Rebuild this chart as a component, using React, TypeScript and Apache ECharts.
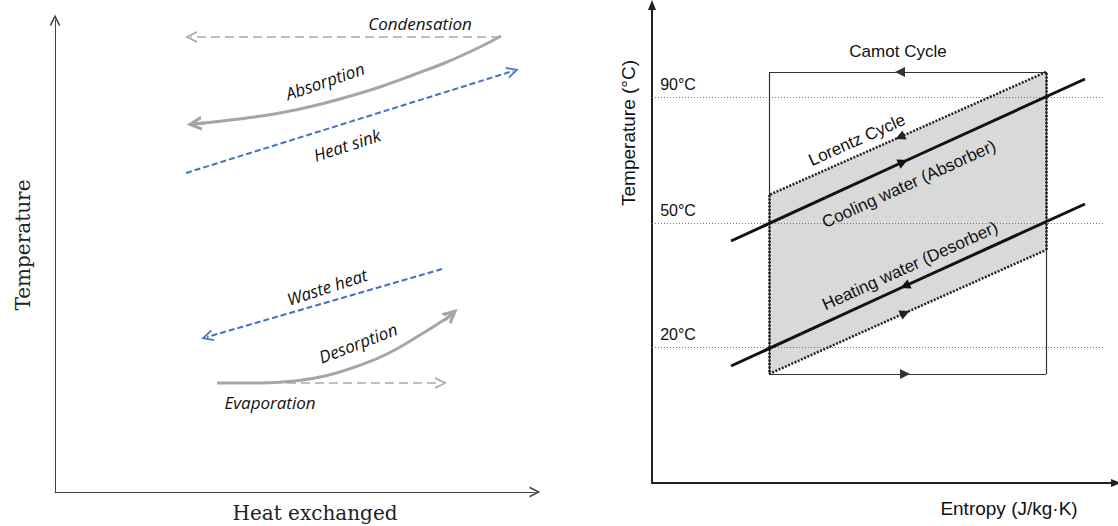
import React, { useEffect, useRef } from 'react';
import * as echarts from 'echarts';

// ---------- Left panel (schematic units: heat exchanged vs temperature) ----------
const absorptionX = [446, 425, 392, 358, 325, 292, 258, 225, 192, 158, 138];
const absorptionY = [456, 445, 430, 417, 405, 395, 386, 379, 374, 370, 368];
const desorptionX = [162, 205, 240, 270, 300, 332, 365, 392, 397];
const desorptionY = [109, 109, 111, 116, 125, 138, 157, 174, 178];
const condensationSeg = [[445, 455], [136, 455]];
const evaporationSeg = [[232, 109], [386, 109]];
const heatSinkSeg = [[131, 319], [458, 421]];
const wasteHeatSeg = [[387, 223], [152, 155]];
const absorptionTip = [[150, 369], [139, 368]];
const desorptionTip = [[390, 172], [397, 178]];
const leftLabelText = ['Condensation', 'Absorption', 'Heat sink', 'Waste heat', 'Desorption', 'Evaporation'];
const leftLabelX = [365, 270, 292, 272, 303, 215];
const leftLabelY = [469, 411, 347, 205, 149, 90];
const leftLabelRot = [0, 19, 18, 18, 21, 0];

// ---------- Right panel (schematic units: entropy vs temperature) ----------
const carnotArrowSegs = [[[394, 411], [248, 411]], [[117, 109], [253, 109]]];
const carnotPlainSegs = [[[248, 411], [117, 411]], [[117, 411], [117, 109]], [[253, 109], [394, 109]], [[394, 109], [394, 411]]];
const lorentzX = [117, 394, 394, 117];
const lorentzY = [288, 411, 233, 109];
const lorentzArrowSegs = [[[394, 411], [248, 346]], [[117, 109], [253, 170]]];
const lorentzPlainSegs = [[[248, 346], [117, 288]], [[253, 170], [394, 233]], [[117, 288], [117, 109]], [[394, 233], [394, 411]]];
const waterArrowSegs = [[[79, 242], [251, 321]], [[433, 279], [253, 197]]];
const waterPlainSegs = [[[251, 321], [433, 404]], [[253, 197], [79, 117]]];
const tempLevels = [386, 260, 136];
const tempLabels = ['90°C', '50°C', '20°C'];
const refLineEnd = 453;
const rightLabelText = ['Camot Cycle', 'Lorentz Cycle', 'Cooling water (Absorber)', 'Heating water (Desorber)'];
const rightLabelX = [246, 205, 257, 258];
const rightLabelY = [432, 343, 299, 217];
const rightLabelRot = [0, 24, 24.5, 24.5];

const CHEV = 'path://M0,10L5,0L10,10L8.4,10L5,3.2L1.6,10Z';
const CHEV_BOLD = 'path://M0,10L5,0L10,10L7.6,10L5,4.4L2.4,10Z';

function linesSeries(grid: number, segs: number[][][], color: string, width: number, type: any, endSymbol: string, size: number, z = 3) {
  return {
    type: 'lines',
    coordinateSystem: 'cartesian2d',
    xAxisIndex: grid,
    yAxisIndex: grid,
    symbol: ['none', endSymbol],
    symbolSize: size,
    lineStyle: { color, width, type, opacity: 1, curveness: 0 },
    data: segs.map((s) => ({ coords: s })),
    silent: true,
    z,
  };
}

function labelSeries(grid: number, texts: string[], xs: number[], ys: number[], rots: number[], font: any) {
  return {
    type: 'scatter',
    xAxisIndex: grid,
    yAxisIndex: grid,
    symbolSize: 0,
    silent: true,
    z: 10,
    itemStyle: { opacity: 1, color: '#111' },
    label: { show: true, position: 'inside', formatter: '{b}', color: '#111', opacity: 1, textBorderWidth: 0, ...font },
    data: texts.map((t, i) => ({ name: t, value: [xs[i], ys[i]], label: { rotate: rots[i] } })),
  };
}

export default function App() {
  const ref = useRef<HTMLDivElement>(null);
  useEffect(() => {
    const chart = echarts.init(ref.current!, null, { renderer: 'svg' });
    const hidden = { axisTick: { show: false }, axisLabel: { show: false }, splitLine: { show: false } };
    const option: any = {
      animation: false,
      grid: [
        { left: 55, top: 20, width: 480, height: 472 },
        { left: 652, top: 5, width: 464, height: 478 },
      ],
      xAxis: [
        { type: 'value', gridIndex: 0, min: 0, max: 480, ...hidden,
          axisLine: { show: true, symbol: ['none', CHEV], symbolSize: [11, 12], lineStyle: { color: '#444', width: 1 } } },
        { type: 'value', gridIndex: 1, min: 0, max: 464, ...hidden,
          axisLine: { show: true, symbol: ['none', 'triangle'], symbolSize: [8, 10], lineStyle: { color: '#222', width: 2 } } },
      ],
      yAxis: [
        { type: 'value', gridIndex: 0, min: 0, max: 472, ...hidden,
          axisLine: { show: true, symbol: ['none', CHEV], symbolSize: [11, 12], lineStyle: { color: '#444', width: 1 } } },
        { type: 'value', gridIndex: 1, min: 0, max: 478, ...hidden,
          axisLine: { show: true, symbol: ['none', 'triangle'], symbolSize: [8, 10], lineStyle: { color: '#222', width: 2 } } },
      ],
      graphic: [
        { type: 'text', x: 23, y: 245, rotation: Math.PI / 2,
          style: { text: 'Temperature', font: '20px "DejaVu Serif"', fill: '#222', align: 'center', verticalAlign: 'middle' } },
        { type: 'text', x: 315, y: 513,
          style: { text: 'Heat exchanged', font: '20px "DejaVu Serif"', fill: '#222', align: 'center', verticalAlign: 'middle' } },
        { type: 'text', x: 628, y: 133, rotation: Math.PI / 2,
          style: { text: 'Temperature (°C)', font: '19px "Liberation Sans"', fill: '#111', align: 'center', verticalAlign: 'middle' } },
        { type: 'text', x: 1009, y: 508,
          style: { text: 'Entropy (J/kg·K)', font: '19px "Liberation Sans"', fill: '#111', align: 'center', verticalAlign: 'middle' } },
      ],
      series: [
        // Left panel
        { type: 'line', xAxisIndex: 0, yAxisIndex: 0, smooth: 0.4, showSymbol: false, silent: true,
          lineStyle: { color: '#a6a6a6', width: 3 }, data: absorptionX.map((x, i) => [x, absorptionY[i]]) },
        { type: 'line', xAxisIndex: 0, yAxisIndex: 0, smooth: 0.5, showSymbol: false, silent: true,
          lineStyle: { color: '#a6a6a6', width: 3 }, data: desorptionX.map((x, i) => [x, desorptionY[i]]) },
        linesSeries(0, [absorptionTip, desorptionTip], '#a6a6a6', 3, 'solid', CHEV_BOLD, 15),
        linesSeries(0, [condensationSeg, evaporationSeg], '#aaaaaa', 1.5, [9, 5], CHEV, 12),
        linesSeries(0, [heatSinkSeg, wasteHeatSeg], '#4472c4', 2, [6, 3], CHEV, 12),
        labelSeries(0, leftLabelText, leftLabelX, leftLabelY, leftLabelRot,
          { fontSize: 17, fontStyle: 'italic', fontFamily: '"Open Sans"' }),
        // Right panel
        { type: 'custom', xAxisIndex: 1, yAxisIndex: 1, silent: true, z: 1,
          data: [[lorentzX[0], lorentzY[0]]],
          renderItem: (_p: any, api: any) => ({
            type: 'polygon',
            shape: { points: lorentzX.map((x, i) => api.coord([x, lorentzY[i]])) },
            style: { fill: '#d9d9d9' },
          }) },
        linesSeries(1, tempLevels.map((y) => [[0, y], [refLineEnd, y]]), '#777', 1, [1, 2], 'none', 1, 2),
        linesSeries(1, carnotPlainSegs, '#333', 1.2, 'solid', 'none', 1),
        linesSeries(1, carnotArrowSegs, '#333', 1.2, 'solid', 'triangle', 10),
        linesSeries(1, lorentzPlainSegs, '#222', 2.5, [2, 1.5], 'none', 1),
        linesSeries(1, lorentzArrowSegs, '#222', 2.5, [2, 1.5], 'triangle', 10),
        linesSeries(1, waterPlainSegs, '#111', 3, 'solid', 'none', 1),
        linesSeries(1, waterArrowSegs, '#111', 3, 'solid', 'triangle', 10),
        labelSeries(1, tempLabels, tempLevels.map(() => 26), tempLevels.map((y) => y + 13), tempLevels.map(() => 0),
          { fontSize: 16, fontFamily: '"Liberation Sans"' }),
        labelSeries(1, rightLabelText, rightLabelX, rightLabelY, rightLabelRot,
          { fontSize: 17, fontFamily: '"Liberation Sans"' }),
      ],
    };
    chart.setOption(option);
    return () => chart.dispose();
  }, []);
  return <div ref={ref} style={{ position: 'absolute', left: 0, top: 0, width: 1118, height: 526, background: '#fff' }} />;
}
